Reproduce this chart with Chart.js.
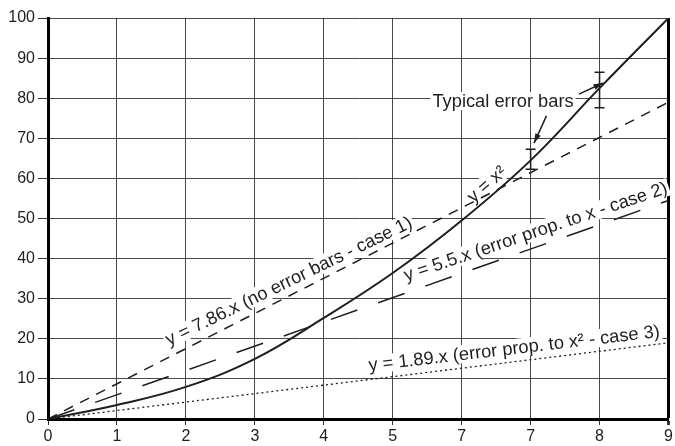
<!DOCTYPE html>
<html>
<head>
<meta charset="utf-8">
<script src="https://cdn.jsdelivr.net/npm/chart.js@4.4.1/dist/chart.umd.min.js"></script>
<style>
  html, body { margin: 0; padding: 0; background: #fff; }
</style>
</head>
<body>
<canvas id="grafico" width="675" height="446"></canvas>
<script>
// valori (x in unita' dell'asse disegnato)
const xTickLabels = ['0', '1', '2', '3', '4', '5', '7', '7', '8', '9'];
const curveX = [0, 1, 2, 3, 4, 5, 6, 7, 8, 9];
const curveY = [0, 3.5, 8, 15, 25.2, 36.4, 49.5, 64.5, 82.5, 100];
const case1X = [0, 9];
const case1Y = [0, 79];
const case2X = [0, 9];
const case2Y = [0, 54.5];
const case3X = [0, 9];
const case3Y = [0, 19];
const errX = [7, 8];
const errLow = [62.3, 77.6];
const errHigh = [67.3, 86.5];

// testi e frecce (coordinate in unita' dei dati)
const notes = [
  {text: 'Typical error bars', x: 6.6, y: 79.3, angle: 0},
  {text: 'y = x²', x: 6.36, y: 58.6, angle: -41},
  {text: 'y = 7.86.x (no error bars - case 1)', x: 3.49, y: 34.5, angle: -26},
  {text: 'y = 5.5.x (error prop. to x - case 2)', x: 7.07, y: 46.8, angle: -18.6},
  {text: 'y = 1.89.x (error prop. to x² - case 3)', x: 6.76, y: 17.7, angle: -6.7}
];
const arrows = [
  {from: [7.70, 81.0], to: [8.05, 83.8]},
  {from: [7.23, 75.6], to: [7.05, 68.8]}
];

const FONT = '"Liberation Sans", Arial, sans-serif';
const INK = '#1e1e1e';

function toPoints(xs, ys) {
  return xs.map((x, i) => ({x: x, y: ys[i]}));
}

const notePlugin = {
  id: 'note',
  beforeDatasetsDraw(chart) {
    // fondo bianco sotto le scritte, copre solo la griglia
    const ctx = chart.ctx;
    ctx.save();
    ctx.font = '18.3px ' + FONT;
    notes.forEach(n => {
      const px = chart.scales.x.getPixelForValue(n.x);
      const py = chart.scales.y.getPixelForValue(n.y);
      const w = ctx.measureText(n.text).width;
      ctx.save();
      ctx.translate(px, py);
      ctx.rotate(n.angle * Math.PI / 180);
      ctx.fillStyle = '#fff';
      ctx.fillRect(-w / 2 - 2, -9, w + 4, 18);
      ctx.restore();
    });
    ctx.restore();
  },
  afterDraw(chart) {
    const ctx = chart.ctx;
    const xs = chart.scales.x;
    const ys = chart.scales.y;
    ctx.save();
    ctx.fillStyle = INK;
    ctx.strokeStyle = INK;
    ctx.font = '18.3px ' + FONT;
    ctx.textAlign = 'center';
    ctx.textBaseline = 'middle';
    notes.forEach(n => {
      ctx.save();
      ctx.translate(xs.getPixelForValue(n.x), ys.getPixelForValue(n.y));
      ctx.rotate(n.angle * Math.PI / 180);
      ctx.fillText(n.text, 0, 1);
      ctx.restore();
    });

    // frecce
    ctx.lineWidth = 1.5;
    arrows.forEach(a => {
      const x1 = xs.getPixelForValue(a.from[0]);
      const y1 = ys.getPixelForValue(a.from[1]);
      const x2 = xs.getPixelForValue(a.to[0]);
      const y2 = ys.getPixelForValue(a.to[1]);
      const ang = Math.atan2(y2 - y1, x2 - x1);
      ctx.beginPath();
      ctx.moveTo(x1, y1);
      ctx.lineTo(x2, y2);
      ctx.stroke();
      ctx.beginPath();
      ctx.moveTo(x2, y2);
      ctx.lineTo(x2 - 10 * Math.cos(ang - 0.3), y2 - 10 * Math.sin(ang - 0.3));
      ctx.lineTo(x2 - 10 * Math.cos(ang + 0.3), y2 - 10 * Math.sin(ang + 0.3));
      ctx.closePath();
      ctx.fill();
    });

    // etichette asse x (disegnate a mano per non stringere l'area)
    ctx.font = '16px ' + FONT;
    xTickLabels.forEach((lab, i) => {
      ctx.fillText(lab, xs.getPixelForValue(i), 437);
    });
    ctx.restore();
  }
};

const datasets = [
  {
    data: toPoints(curveX, curveY),
    borderColor: INK,
    borderWidth: 2,
    tension: 0.4
  },
  {
    data: toPoints(case1X, case1Y),
    borderColor: INK,
    borderWidth: 1.5,
    borderDash: [10, 8]
  },
  {
    data: toPoints(case2X, case2Y),
    borderColor: INK,
    borderWidth: 1.5,
    borderDash: [28, 22]
  },
  {
    data: toPoints(case3X, case3Y),
    borderColor: INK,
    borderWidth: 1.3,
    borderDash: [2, 3]
  }
];
errX.forEach((x, i) => {
  datasets.push({
    data: [{x: x, y: errLow[i]}, {x: x, y: errHigh[i]}],
    borderColor: INK,
    borderWidth: 1.5,
    pointStyle: 'line',
    pointRadius: 5,
    pointBorderWidth: 1.5,
    pointBorderColor: INK
  });
});
datasets.forEach(d => {
  d.showLine = true;
  if (d.pointRadius === undefined) d.pointRadius = 0;
});

const chart = new Chart(document.getElementById('grafico'), {
  type: 'scatter',
  data: {datasets: datasets},
  options: {
    responsive: false,
    animation: false,
    devicePixelRatio: 1,
    layout: {padding: {top: 18, right: 2, left: 0, bottom: 0}},
    plugins: {legend: {display: false}, tooltip: {enabled: false}},
    scales: {
      x: {
        type: 'linear',
        min: 0,
        max: 9,
        ticks: {display: false, stepSize: 1},
        grid: {
          color: ctx => ctx.tick && ctx.tick.value === 9 ? '#000' : 'rgba(40,40,40,0.85)',
          lineWidth: ctx => ctx.tick && ctx.tick.value === 9 ? 3 : 1,
          tickLength: 6,
          tickColor: '#333'
        },
        border: {display: true, width: 3, color: '#000'},
        afterFit: scale => { scale.height = 27; }
      },
      y: {
        min: 0,
        max: 100,
        ticks: {
          stepSize: 10,
          padding: 3,
          color: INK,
          font: {family: FONT, size: 16}
        },
        grid: {
          color: 'rgba(40,40,40,0.85)',
          lineWidth: 1,
          tickLength: 10,
          tickColor: '#333'
        },
        border: {display: true, width: 3, color: '#000'},
        afterFit: scale => { scale.width = 48; }
      }
    }
  },
  plugins: [notePlugin]
});
</script>
</body>
</html>
